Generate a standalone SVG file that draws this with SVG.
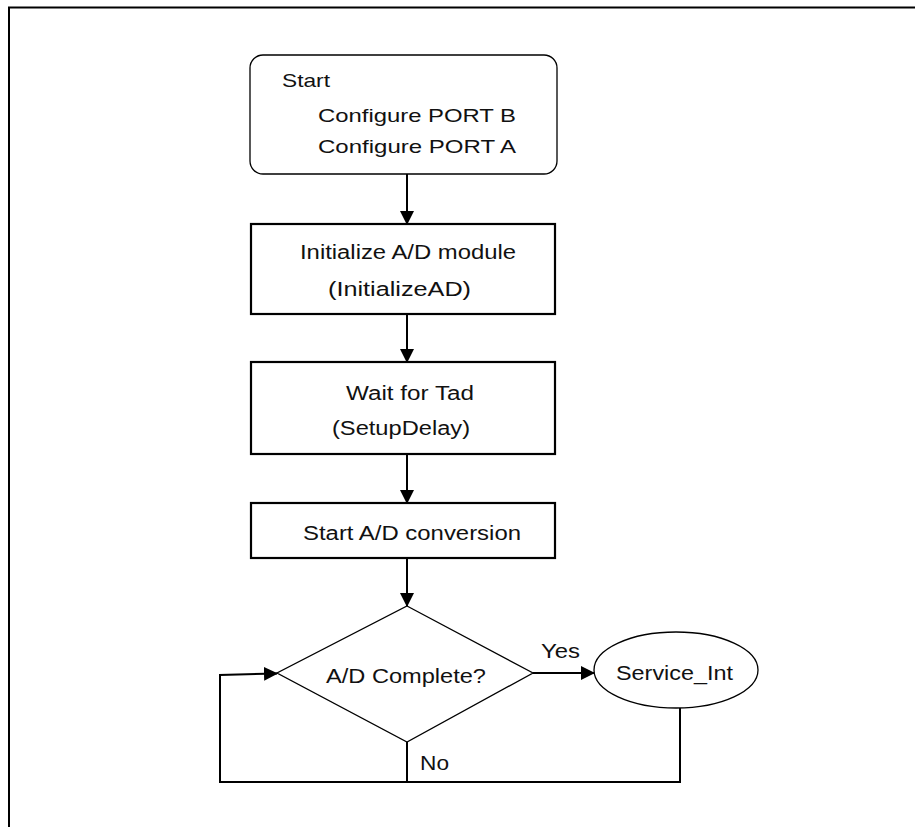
<svg xmlns="http://www.w3.org/2000/svg" width="915" height="827" viewBox="0 0 915 827">
<defs>
<marker id="ah" markerWidth="14" markerHeight="14" refX="13" refY="7" orient="auto" markerUnits="userSpaceOnUse">
<path d="M0,0 L14,7 L0,14 Z" fill="#000"/>
</marker>
<style>
text{font-family:"Liberation Sans",Arial,sans-serif;font-size:20px;fill:#111}
.s{font-size:19px}
.box{fill:#fff;stroke:#000;stroke-width:2.2}
.thin{fill:#fff;stroke:#000;stroke-width:1.3}
.con{fill:none;stroke:#000;stroke-width:2}
</style>
</defs>
<rect width="915" height="827" fill="#fff"/>
<path d="M9,827 V7.5 H915" fill="none" stroke="#000" stroke-width="2"/>
<g id="start">
<rect class="thin" x="250" y="55" width="307" height="119" rx="13"/>
<text class="s" x="282" y="87" textLength="48" lengthAdjust="spacingAndGlyphs">Start</text>
<text class="s" x="318" y="122" textLength="198" lengthAdjust="spacingAndGlyphs">Configure PORT B</text>
<text class="s" x="318" y="153" textLength="198" lengthAdjust="spacingAndGlyphs">Configure PORT A</text>
</g>
<g id="init">
<rect class="box" x="251" y="224" width="304" height="90"/>
<text x="300" y="259" textLength="216" lengthAdjust="spacingAndGlyphs">Initialize A/D module</text>
<text x="328" y="296" textLength="143" lengthAdjust="spacingAndGlyphs">(InitializeAD)</text>
</g>
<g id="wait">
<rect class="box" x="251" y="362" width="304" height="92"/>
<text x="346" y="400" textLength="128" lengthAdjust="spacingAndGlyphs">Wait for Tad</text>
<text x="332" y="435" textLength="138" lengthAdjust="spacingAndGlyphs">(SetupDelay)</text>
</g>
<g id="conv">
<rect class="box" x="251" y="503" width="304" height="55"/>
<text x="303" y="540" textLength="218" lengthAdjust="spacingAndGlyphs">Start A/D conversion</text>
</g>
<g id="decision">
<polygon class="thin" points="407,606 533,673 407,742 277,673"/>
<text x="326" y="683" textLength="160" lengthAdjust="spacingAndGlyphs">A/D Complete?</text>
</g>
<g id="service">
<ellipse class="thin" cx="676" cy="670" rx="82" ry="38"/>
<text x="616" y="680" textLength="117" lengthAdjust="spacingAndGlyphs">Service_Int</text>
</g>
<g id="connectors">
<line class="con" x1="407" y1="174" x2="407" y2="224" marker-end="url(#ah)"/>
<line class="con" x1="407" y1="314" x2="407" y2="362" marker-end="url(#ah)"/>
<line class="con" x1="407" y1="454" x2="407" y2="503" marker-end="url(#ah)"/>
<line class="con" x1="407" y1="558" x2="407" y2="606" marker-end="url(#ah)"/>
<line class="con" x1="533" y1="673" x2="594" y2="673" marker-end="url(#ah)"/>
<path class="con" d="M407,742 V782"/>
<path class="con" d="M680,708 V782 H220 V675 L277,673.5" marker-end="url(#ah)"/>
<text x="541" y="658" textLength="39" lengthAdjust="spacingAndGlyphs">Yes</text>
<text x="420" y="770" textLength="29" lengthAdjust="spacingAndGlyphs">No</text>
</g>
</svg>
